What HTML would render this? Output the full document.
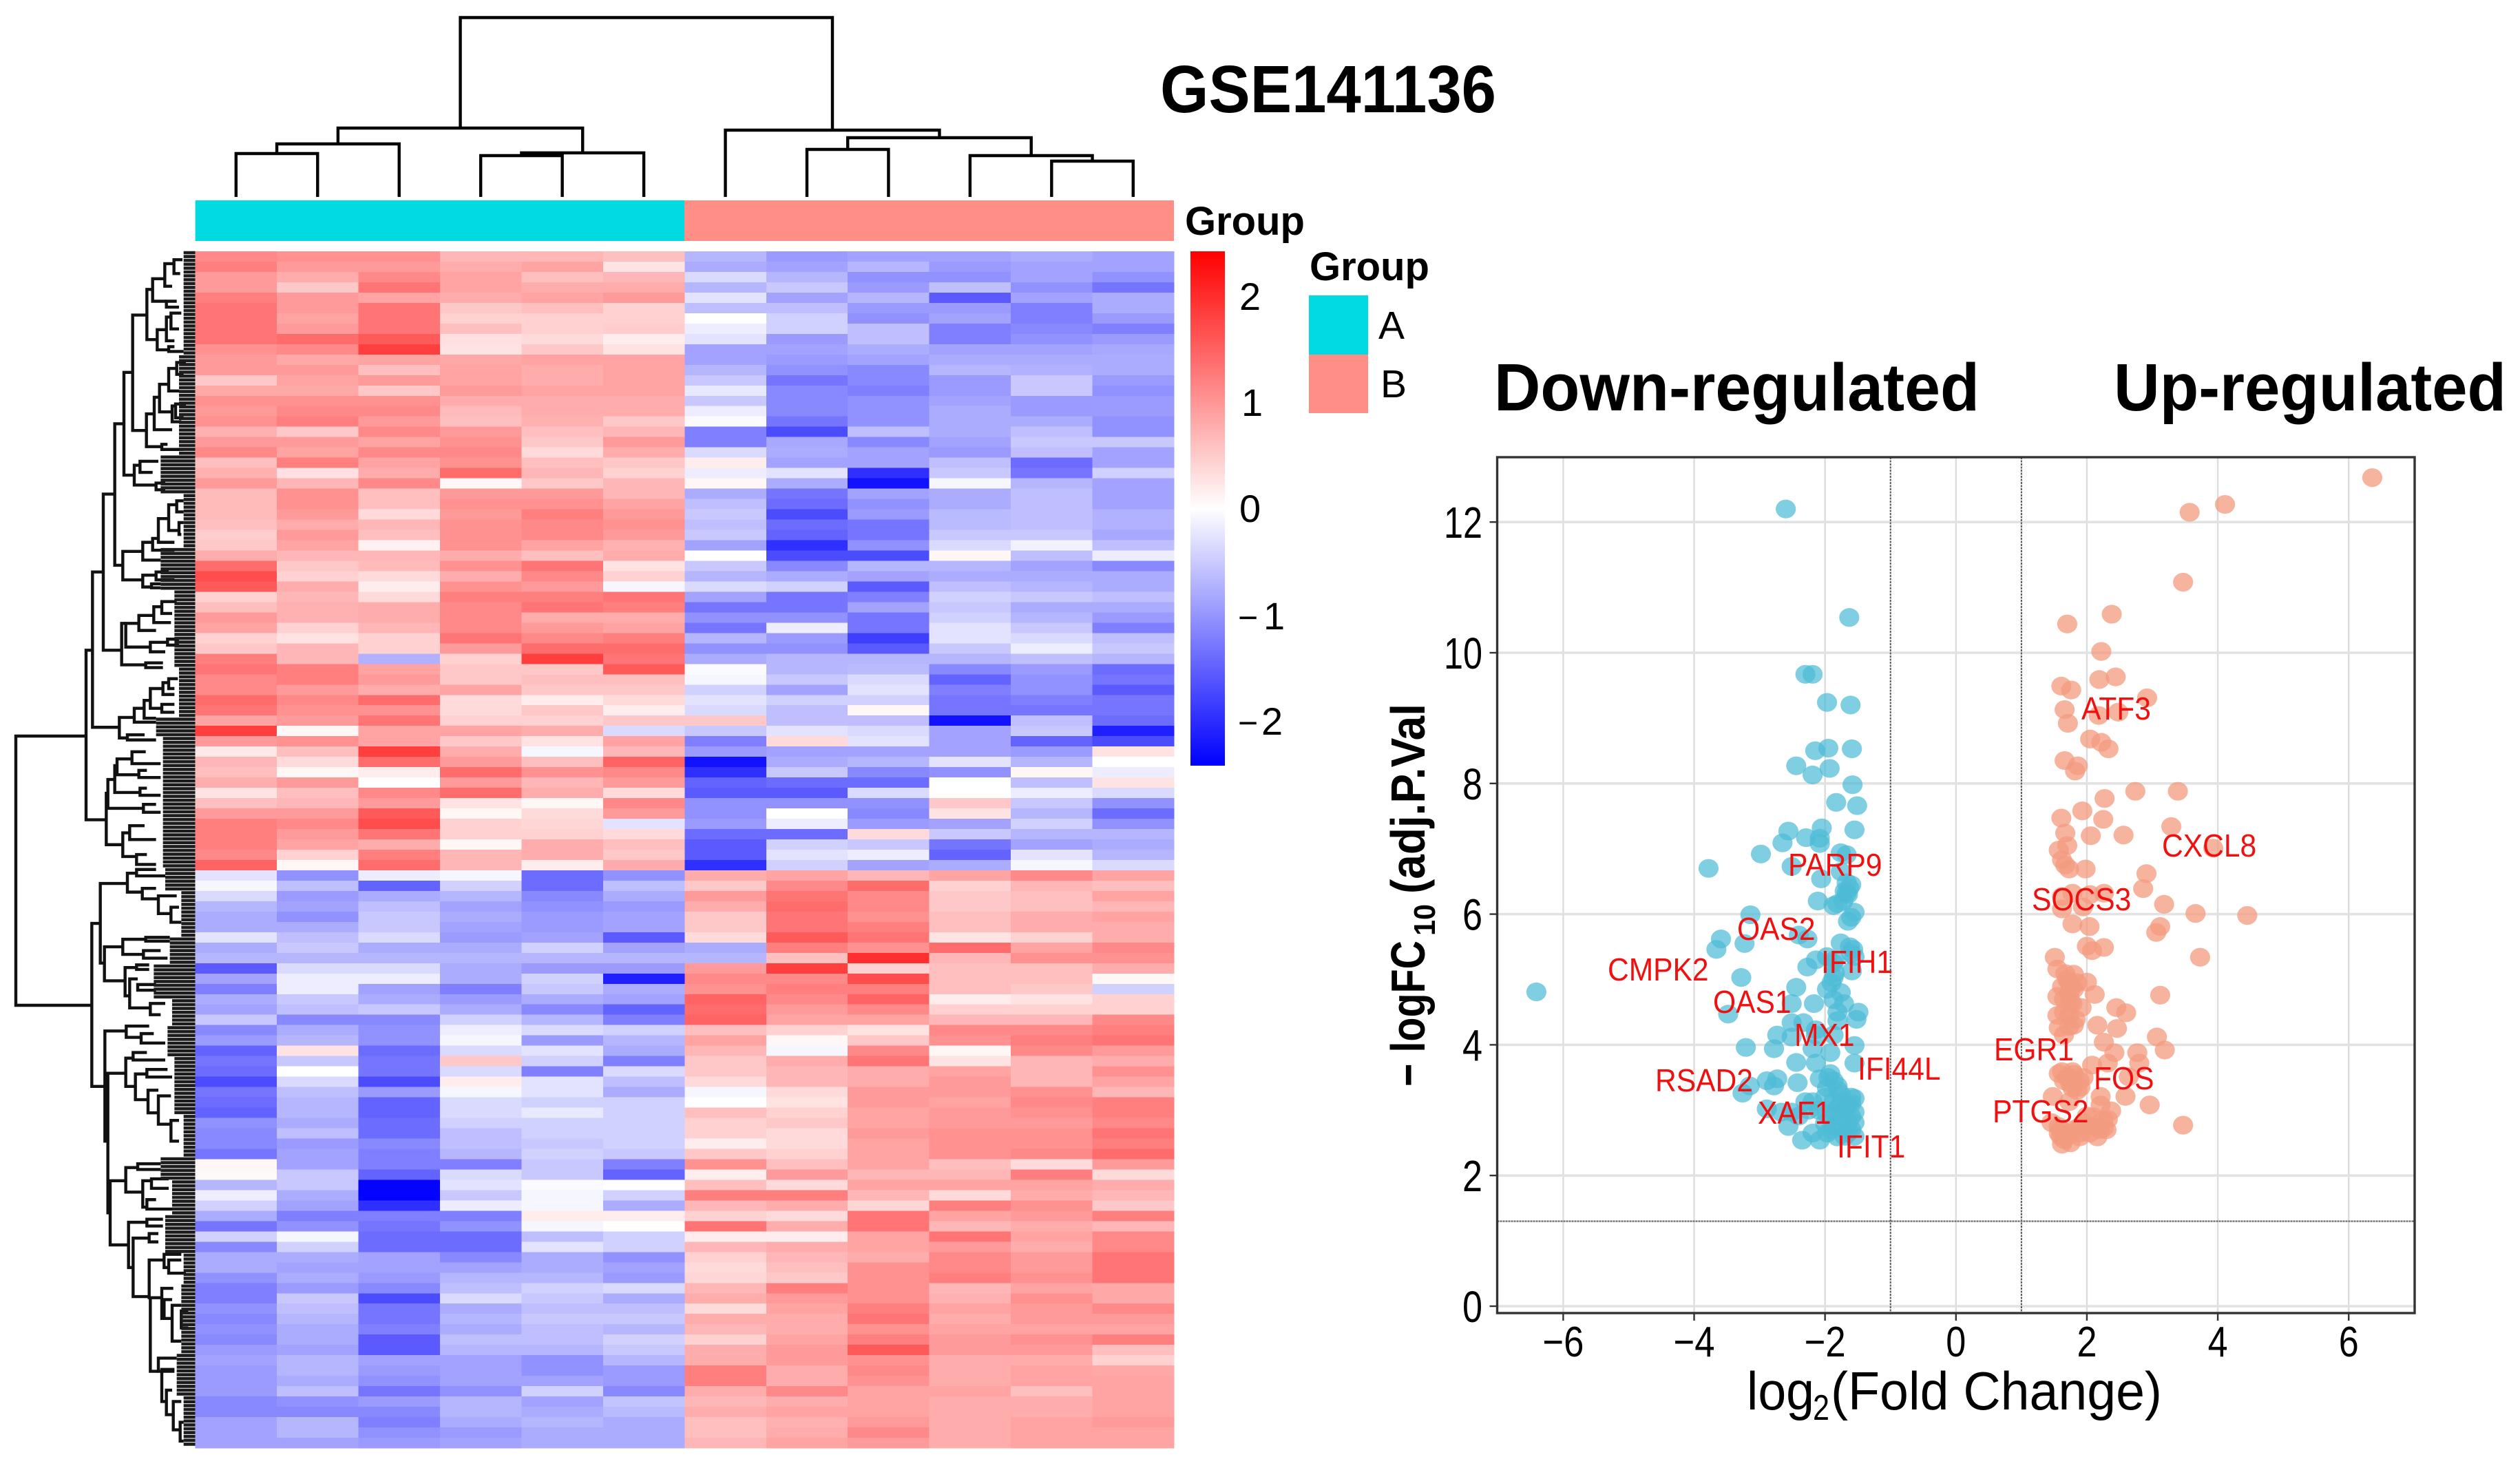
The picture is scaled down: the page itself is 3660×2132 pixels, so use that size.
<!DOCTYPE html>
<html lang="en">
<head>
<meta charset="utf-8">
<title>GSE141136 heatmap and volcano plot</title>
<style>
html,body{margin:0;padding:0;background:#fff;}
svg{display:block;}
text{font-family:"Liberation Sans",sans-serif;fill:#000;}
.lbl{fill:#f01010;font-size:46px;}
</style>
</head>
<body>
<svg id="fig" width="3660" height="2132" viewBox="0 0 3660 2132" xmlns="http://www.w3.org/2000/svg">
<defs>
<linearGradient id="cbar" x1="0" y1="0" x2="0" y2="1">
<stop offset="0" stop-color="#ff0000"/>
<stop offset="0.5" stop-color="#ffffff"/>
<stop offset="1" stop-color="#0000ff"/>
</linearGradient>
</defs>
<rect x="0" y="0" width="3660" height="2132" fill="#fff"/>
<g id="colDendro" fill="none" stroke="#000" stroke-width="4.4"></g>
<rect x="283.6" y="291" width="710.4" height="59" fill="#00dae0"/>
<rect x="994" y="291" width="711" height="59" fill="#ff8e87"/>
<g id="rowDendro" fill="none" stroke="#111" stroke-width="4.4"></g>
<g id="heat" shape-rendering="crispEdges"></g>

<text x="1685" y="163" font-size="97" font-weight="700" textLength="488" lengthAdjust="spacingAndGlyphs">GSE141136</text>
<text x="1721" y="341" font-size="58" font-weight="700">Group</text>
<rect x="1729" y="365" width="50" height="747" fill="url(#cbar)"/>
<text x="1800" y="450" font-size="56">2</text>
<text x="1803" y="604" font-size="56">1</text>
<text x="1800" y="758" font-size="56">0</text>
<text y="914" font-size="56"><tspan x="1798" font-size="50">−</tspan><tspan x="1835">1</tspan></text>
<text y="1067" font-size="56"><tspan x="1798" font-size="50">−</tspan><tspan x="1832">2</tspan></text>

<text x="1902" y="407" font-size="58" font-weight="700">Group</text>
<rect x="1901" y="429" width="86" height="86" fill="#00dae0"/>
<rect x="1901" y="515" width="86" height="85" fill="#ff8e87"/>
<text x="2002" y="492" font-size="57">A</text>
<text x="2005" y="577" font-size="57">B</text>

<text x="2170" y="596" font-size="97" font-weight="700" textLength="705" lengthAdjust="spacingAndGlyphs">Down-regulated</text>
<text x="3070" y="596" font-size="97" font-weight="700" textLength="570" lengthAdjust="spacingAndGlyphs">Up-regulated</text>

<g id="volcano"></g>

<g>
<text class="lbl" x="3023" y="1045">ATF3</text>
<text class="lbl" x="3140" y="1244">CXCL8</text>
<text class="lbl" x="2597" y="1272">PARP9</text>
<text class="lbl" x="2951" y="1322">SOCS3</text>
<text class="lbl" x="2523" y="1365">OAS2</text>
<text class="lbl" x="2645" y="1413">IFIH1</text>
<text class="lbl" x="2335" y="1424">CMPK2</text>
<text class="lbl" x="2488" y="1471">OAS1</text>
<text class="lbl" x="2606" y="1519">MX1</text>
<text class="lbl" x="2896" y="1540">EGR1</text>
<text class="lbl" x="2698" y="1568">IFI44L</text>
<text class="lbl" x="3041" y="1582">FOS</text>
<text class="lbl" x="2404" y="1585">RSAD2</text>
<text class="lbl" x="2894" y="1630">PTGS2</text>
<text class="lbl" x="2553" y="1632">XAF1</text>
<text class="lbl" x="2668" y="1681">IFIT1</text>
</g>

<g>
<text x="2537" y="2047" font-size="78" textLength="98" lengthAdjust="spacingAndGlyphs">log</text>
<text x="2633" y="2062" font-size="52" textLength="24" lengthAdjust="spacingAndGlyphs">2</text>
<text x="2659" y="2047" font-size="78" textLength="481" lengthAdjust="spacingAndGlyphs">(Fold Change)</text>
</g>
<g font-weight="700">
<text transform="translate(2069,1578) rotate(-90)" font-size="70" font-weight="700" textLength="212" lengthAdjust="spacingAndGlyphs">− logFC</text>
<text transform="translate(2084,1359) rotate(-90)" font-size="44" font-weight="700" textLength="46" lengthAdjust="spacingAndGlyphs">10</text>
<text transform="translate(2069,1298) rotate(-90)" font-size="70" font-weight="700" textLength="276" lengthAdjust="spacingAndGlyphs">(adj.P.Val</text>
</g>
</svg>

<script>
/* ---------- Heatmap values: each row holds 12 samples ---------- */
const heatValues = [
[1.3,1.2,1.2,.8,.8,.7,-.8,-1.1,-1,-1,-.9,-1],
[1.4,1.1,1.1,.9,1,.3,-.9,-1,-.8,-1.1,-1,-1],
[1.1,.9,1.3,1,.7,.8,-.4,-.8,-1.2,-1.2,-1,-1.2],
[1.1,.6,1.5,1,.9,.9,-.8,-.6,-1.1,-.7,-1.2,-1.5],
[1.4,1.1,1,.9,1,1.1,-.3,-1,-.8,-1.8,-1,-.9],
[1.5,1.1,1.5,.6,.7,.5,-.7,-.7,-1.1,-1.1,-1.4,-.9],
[1.5,1,1.5,.5,.5,.5,0,-.5,-1.2,-1,-1.4,-1.1],
[1.5,1.1,1.5,.7,.5,.55,-.2,-.5,-.7,-1.4,-1.3,-1.4],
[1.5,1.6,1.8,.35,.4,.2,-.3,-1.1,-.7,-1.4,-1.2,-1.1],
[1.2,1.3,2,.3,.6,.3,-1,-1,-.9,-1,-1,-.95],
[1.1,.95,1,.95,1,1,-1,-1.1,-1,-.9,-.9,-.9],
[1.1,1.1,.7,1,.9,1,-.8,-1.2,-1.3,-.8,-.85,-.9],
[.6,1,1.1,1,.9,1,-.6,-1.5,-1.3,-1.1,-.6,-1.1],
[.95,.95,.6,1.1,1,1,-.25,-1.3,-1.4,-1.1,-.6,-1.2],
[1.2,1.2,1.2,.9,.9,.9,-.6,-1.3,-1.2,-1,-1.1,-1.1],
[1.1,1.3,1.3,.75,.9,.9,-.2,-1.3,-1.2,-.9,-1.1,-1.1],
[1.2,1.4,1.1,.7,.85,.6,-.05,-1.5,-1.2,-.9,-.9,-1.2],
[.85,.6,1.3,1.1,.7,.8,-1.4,-1.9,-.7,-.9,-.7,-1.2],
[1.1,1.1,1,1.2,.6,1.1,-1.4,-.95,-1.3,-1,-.6,-.6],
[1.3,1,1.3,1.3,.4,.9,-.4,-.9,-1,-1.1,-.7,-1],
[.7,1.4,1,1.2,.7,.6,.2,-1,-1,-.7,-1.6,-1],
[.85,.35,.9,1.6,.8,.5,-.2,-.3,-2.1,-.6,-1.5,-.5],
[1.1,.8,1.3,.1,.6,.8,.1,-.9,-2.3,-.1,-.8,-1],
[.75,1.2,.7,1.1,1.1,.8,-.9,-1.5,-1,-.9,-.7,-1],
[.75,1.2,.7,1.2,1.2,1,-.7,-1.6,-1.2,-.9,-.7,-1],
[.75,1.1,.4,1.1,1.4,1.1,-.6,-1.9,-1.1,-.75,-.7,-.85],
[.7,.9,.8,1.2,1.3,1.2,-.7,-1.6,-1.5,-.75,-.7,-.85],
[.55,1.1,.7,1.2,1.3,1.1,-.6,-1.7,-1.5,-.6,-.6,-.95],
[.6,1,.15,1.2,1,.85,-1,-2.1,-1.2,-.4,-.15,-.7],
[.9,.8,.8,.9,.7,.9,0,-1.9,-1.9,.1,-.7,-.2],
[1.6,.6,.75,1.2,1.5,.3,-.6,-1.3,-.8,-.8,-1,-1.3],
[1.9,.5,.4,.9,1.3,.5,-.8,-.9,-1,-.9,-.9,-.9],
[1.8,.9,.2,1.2,1.1,-.1,-.4,-.5,-1.8,-.7,-.8,-.9],
[.5,.8,.4,1.4,1.4,1.5,-1,-1.5,-1.4,-.5,-.6,-.7],
[.7,.85,.9,1.3,1.5,1.4,-1.5,-1.5,-1,-.6,-.9,-.9],
[1.1,.85,.9,1.3,.9,.9,-1.2,-1.2,-1.5,-.5,-.8,-1.1],
[1,.5,.8,1.3,1.1,1,-1.5,-.2,-1.5,-.3,-.6,-1.4],
[.5,.3,.5,1.5,1.3,1.4,-.8,-1.1,-2,-.3,-.4,-.7],
[.6,.8,.5,1.1,1.6,1.6,-1.2,-1.2,-1.8,-.6,-.2,-.6],
[1.4,.8,-.85,.5,2,1.5,-.9,-.8,-.8,-.8,-.7,-.8],
[1.5,1.4,1,.6,.6,1.8,-.05,-.8,-.75,-1.3,-1.1,-1.6],
[1.3,1.4,1.1,.6,.7,.7,-.1,-.6,-.4,-1.7,-1.2,-1.5],
[1.3,1.1,.9,1,.6,.6,-.5,-1,-.3,-1.4,-1.2,-1.8],
[1.6,1.3,1.6,.4,.2,.4,-.3,-.5,-.5,-1.5,-1.4,-1.5],
[1.5,1.2,1.2,.4,.6,.2,-.4,-.7,.1,-1.5,-1.5,-1.5],
[1,1.1,1.5,.5,.5,.6,.6,-.7,-.7,-2.3,-.7,-1.6],
[2,.1,1,1,.9,-.4,-.6,-.3,-.4,-1,-.6,-2.2],
[1.1,1.2,1,.6,.3,1,-1.4,.4,-.3,-1,-1.7,-1.9],
[.25,.7,2,.9,-.1,.8,-1.1,-1,-1,-1,-1.1,.3],
[.8,.4,1.6,1.1,.7,1.7,-2.3,-.9,-.8,-.3,-.8,0],
[.7,.1,.2,1.6,1.2,1.3,-2.1,-.6,-1.3,-1.2,.1,-.2],
[.9,1.1,0,1.1,.8,1.1,-1.7,-1.6,-1.6,0,-.7,.3],
[.3,.7,1.3,1.6,.9,.4,-1.8,-1.8,-.4,0,-.2,-.4],
[.7,.8,1.1,.3,.1,1.3,-1.2,-1.2,-1.2,.6,-.6,-1.2],
[1.1,1.1,1.8,.1,.4,1.1,-1.2,0,-1.3,.3,-.8,-1.6],
[1.4,1.3,1.9,.5,.45,-.3,-1.1,-.2,-1.1,-1,-.5,-1.2],
[1.4,1.1,1.5,.5,.5,.4,-1.6,-1.6,.4,-.6,-.8,-.8],
[1.4,1,.9,.1,.9,.7,-1.8,-.5,-.6,-1.5,-1,-.9],
[1.3,.5,1.4,.8,.9,.6,-1.8,-.3,-.2,-1.7,-.3,-.8],
[1.7,.1,1.6,.8,.2,.9,-2.1,-.5,-1,-.9,-.1,-.4],
[-.3,-1.2,-.2,-.1,-1.6,-1.2,.9,1,.8,1,1.3,1],
[-.1,-.7,-1.7,-.5,-1.6,-.7,.6,1.3,1.6,.5,.8,.7],
[-.4,-1.1,-.9,-.8,-1.3,-.9,1.1,1.5,1.3,.6,.7,1],
[-.8,-1,-.7,-1,-1.2,-1.1,.9,1.6,1.3,.6,.7,.8],
[-.9,-1.2,-.6,-.9,-1.1,-1,.6,1.5,1.2,.7,.9,1],
[-.9,-.9,-.6,-1,-1.1,-1,.6,1.5,1.4,.7,.9,.9],
[-.3,-.7,-.4,-1.1,-1,-1.8,.4,1.8,1.5,.3,.5,.9],
[-.9,-.6,-.9,-.9,-.5,-1,-.9,1.4,1.2,1.6,1,1.3],
[-.8,-.8,-.8,-.8,-.8,-.8,-.8,.7,2.1,.8,1.2,1.2],
[-1.8,-.4,-.4,-.9,-1.1,-1.1,1.1,2,.5,.7,.7,.9],
[-1,-.2,-.2,-.9,-.5,-2.2,1.3,1.3,1.9,.7,.7,.1],
[-1.4,-.2,-1,-1.4,-.6,-.9,1.2,1.4,1.4,.7,.6,-.5],
[-.9,-.6,-.9,-1.1,-.9,-1,1.7,1.3,1.7,.2,.3,.5],
[-1,-.7,-.6,-.9,-1.3,-1.7,1.6,1.1,1.3,.5,.5,.5],
[-.6,-1.3,-1.3,-.5,-.8,-1.4,1.7,1,1,.8,.8,1.3],
[-1.3,-.9,-1.2,-.2,-.4,-.5,.7,.5,.3,1.3,1.3,1.4],
[-1.1,-.8,-1.2,-.1,-1.1,-.8,1,.1,.6,1.2,1.4,1.5],
[-1.7,.3,-1.6,-.4,-.3,-.9,.8,-.1,1.3,.1,1.3,1.1],
[-1.5,-.6,-1.5,.6,-.5,-1.4,.6,.9,1.5,.3,.8,.9],
[-1.6,0,-1.5,-.4,-1.4,-.4,.6,.8,.9,1,.8,1.2],
[-1.9,-.4,-1.9,.2,-.3,-.7,.4,.8,.9,1.1,.8,1],
[-1.5,-.7,-1.1,-.1,-.3,-.9,-.1,.4,1.1,1.1,1.2,.8],
[-1.6,-.8,-1.7,-.4,-.5,-.5,0,.3,1.1,1,1.3,1.4],
[-1.7,-.8,-1.7,-.4,-.25,-.5,.7,.5,1,1.1,1.2,1.4],
[-1.2,-.9,-1.6,-.5,-.5,-.5,.5,.6,1,1.1,1.1,1.3],
[-1.3,-.7,-1.6,-.7,-.5,-.5,.5,.4,1.1,1.2,1.2,1.5],
[-1.3,-1.1,-1.3,-.7,-.6,-.5,.2,.4,1,1.2,1.2,1.4],
[-1.5,-1,-1.4,-.8,-.5,-.6,.6,.5,1,1.2,1.3,1.6],
[.1,-1,-1.4,-1.4,-.6,-1.4,1.2,.7,1,.7,.4,1.1],
[.05,-.6,-1.7,-.4,-.6,-1.7,.2,1.1,.8,.8,1.4,.4],
[-.8,-.6,-2.4,-.3,-.05,0,.7,.4,1,1,1,.9],
[-.2,-.9,-2.4,-.6,-.1,-.5,1.4,1.4,.8,.4,.9,.8],
[-.5,-1,-2.1,-.2,-.1,-.9,.8,.9,.45,1.4,1.2,.6],
[-.9,-1.4,-1.4,-1.4,.2,.2,.5,.4,1.5,1,1.1,1.4],
[-1.5,-1.2,-1.5,-1.2,-.1,0,1.5,.9,1.5,.8,.9,.8],
[-.5,-.1,-1.6,-1.6,-.7,-.5,.2,.2,1,1.5,1,1.3],
[-1.3,-.5,-1.6,-1.6,-.3,-.5,.8,.9,1,1.1,.9,1.3],
[-.9,-.9,-1,-1.3,-.9,-1.2,.5,.8,.9,1.3,1.1,1.5],
[-.9,-1,-1,-1,-.9,-1,.4,.7,1.2,1.3,1.1,1.5],
[-1.2,-.9,-1.1,-.8,-.8,-1.1,.45,.6,1.2,1.4,1.2,1.5],
[-1.4,-1.1,-1.3,-.7,-.5,-.4,.8,1.4,1.2,.8,1,.95],
[-1.4,-.6,-1.9,-.4,-.6,-.9,.9,1.1,1.2,.85,1.2,.95],
[-1.2,-.7,-1.5,-.9,-.7,-.7,.4,1,1.4,1,1.1,1.3],
[-1.3,-.8,-1.5,-.8,-.6,-.6,.9,.9,1.5,.9,1.1,1.1],
[-1.2,-.9,-1.4,-.9,-.7,-.8,.8,.9,1.2,1,1,1],
[-1.3,-.9,-1.8,-.7,-.7,-.5,.5,1,1.4,1.1,1.2,1.4],
[-1.1,-1,-1.8,-.8,-.8,-.6,.9,1.1,1.8,1.1,1.1,.7],
[-1,-.8,-1,-1,-1.2,-.8,.9,1.1,1.2,.9,.9,.5],
[-1.1,-.8,-1.1,-1,-1.2,-1.1,1.4,.9,1.3,.9,1,.95],
[-1.1,-.9,-1.2,-1,-1,-1.1,1.4,.9,1.2,.9,1,1],
[-1.1,-.7,-1.5,-1.2,-.5,-1.3,.9,1.3,1,1,.7,1],
[-1.3,-1.2,-1.1,-.8,-1,-.65,.8,.9,1,.9,.9,1],
[-1.3,-1.3,-1.3,-.8,-.9,-.75,.9,1,1,.9,.9,1],
[-1,-.8,-1.4,-.9,-.8,-.9,.7,.85,1.1,.9,1,1.1],
[-1,-.8,-1.2,-1.1,-.9,-.9,.7,.9,1.3,.9,1,1],
[-1,-1,-1.1,-1,-.9,-.9,.8,1,1.1,.9,1,1]
];
const heatMax = 2.42;

/* ---------- Column dendrogram: [childA, childB, height]; new ids start at 12 ---------- */
const colMerges = [
[0,1,63],[12,2,77],[3,4,60],[14,5,64],[13,15,100],
[7,8,69],[10,11,52],[9,18,60],[17,19,86],[6,20,97],[16,21,260.5]
];

/* ---------- Row dendrogram: [stemPos, topPos, bottomPos, topEnd, bottomEnd] read on two traced scales ---------- */
const rowMergesUpper = [
[375,1018,1447,403,463],[403,820,1213,450,520],[450,623,1018,500,530],[500,445,803,540,535],
[540,315,575,578,585],[578,170,462,640,638],[640,105,232,665,685],[665,78,135,718,725],
[718,40,97,758,750],[758,30,65,795,785],[725,135,150,770,780],[685,207,258,725,735],
[725,175,235,745,760],[745,165,205,790,780],[735,250,262,760,800],[638,420,503,672,705],
[672,378,460,695,750],[695,345,415,735,750],[735,305,362,770,780],[770,290,320,810,800],
[750,400,440,765,790],[765,395,430,810,800],[705,497,510,730,800],[585,550,600,610,680],
[610,540,568,690,665],[680,595,612,720,720],[535,768,840,622,622],[622,745,790,665,700],
[665,735,765,690,760],[690,685,745,735,760],[735,650,715,770,780],[770,640,668,800,800],
[780,695,725,800,790],[622,828,858,680,660],[680,820,840,735,760],[660,850,860,700,700],
[530,950,1055,548,635],[548,950,1010,605,655],[605,930,968,670,680],[670,908,948,705,745],
[705,895,925,770,750],[655,998,1022,730,720],[730,990,1005,780,780],[635,1050,1062,710,710],
[520,1188,1240,585,555],[585,1165,1200,628,680],[628,1145,1190,655,680],[655,1115,1165,710,705],
[710,1100,1130,735,760],[735,1090,1115,775,760],[705,1155,1175,760,760],[555,1232,1245,630,680],
[463,1380,1510,470,535],[470,1345,1418,500,625],[500,1310,1378,510,610],[510,1293,1333,575,605],
[575,1275,1305,635,700],[605,1322,1340,640,700],[610,1367,1385,640,700],[625,1408,1428,680,700],
[535,1480,1540,565,595],[565,1462,1497,630,680],[595,1535,1560,640,680]
];
const rowMergesLower = [
[400,148,580,437,457],[437,42,253,555,455],[555,15,65,595,620],[595,5,22,680,720],[620,55,83,680,690],
[690,75,122,770,745],[745,105,145,780,790],[455,210,300,535,545],[535,190,230,635,625],[635,185,195,740,740],
[625,220,240,700,730],[545,265,340,595,565],[595,258,270,650,650],[565,295,372,600,655],[600,310,325,680,680],
[655,360,390,720,700],[457,433,725,550,470],[550,420,450,650,615],[615,440,465,670,720],[470,545,915,548,480],
[548,505,580,580,590],[580,490,510,640,720],[590,547,615,640,645],[640,535,555,730,750],[645,590,650,690,690],
[690,605,680,745,745],[745,670,725,780,780],[480,830,1000,548,560],[548,795,860,600,622],[600,785,800,700,700],
[622,830,900,660,640],[660,825,850,735,735],[640,880,905,680,750],[560,940,1060,640,580],[640,932,950,710,710],
[580,982,1137,650,650],[650,970,992,690,690],[650,1040,1140,715,705],[655,1140,1335,650,690],[715,1025,1060,790,735],
[735,1040,1075,790,810],[705,1115,1195,755,715],[715,1145,1195,750,750],[750,1160,1255,790,790],[790,1175,1220,820,820],
[690,1300,1335,770,760],[705,1330,1415,760,725],[725,1385,1450,750,755],[755,1415,1490,790,785],[785,1470,1520,800,800]
];
const combBandsUpper = [[10,270,800],[270,520,780],[520,620,700],[620,760,800],[760,870,700],[870,1060,760],[1060,1190,780],[1190,1240,680],[1240,1568,710]];
const combBandsLower = [[0,60,720],[60,180,790],[180,260,740],[260,350,670],[350,420,750],[420,500,730],[500,650,760],[650,770,800],[770,830,700],[830,920,750],[920,1020,720],[1020,1100,800],[1100,1290,790],[1290,1400,770],[1400,1535,800]];

/* ---------- Volcano data ---------- */
const xTickValues = [-6,-4,-2,0,2,4,6];
const yTickValues = [0,2,4,6,8,10,12];
const downLogFC = [-2.60,-1.63,-2.30,-2.19,-1.97,-1.61,-2.15,-1.95,-1.59,-2.44,-1.93,-2.19,-1.58,-1.83,-1.51,-2.56,-2.05,-1.55,-2.29,-2.65,-2.08,-2.08,-2.98,-3.78,-1.76,-1.67,-2.51,-2.06,-1.76,-1.67,-1.63,-1.67,-2.11,-1.87,-1.81,-1.55,-1.60,-1.65,-3.14,-2.27,-3.23,-3.59,-3.66,-2.40,-1.76,-1.57,-1.55,-2.14,-1.97,-1.87,-2.27,-1.59,-3.28,-1.87,-6.41,-2.44,-1.97,-1.76,-2.17,-2.51,-1.87,-1.71,-1.49,-1.52,-1.81,-3.48,-2.51,-2.33,-2.14,-1.81,-2.73,-2.78,-3.21,-2.51,-2.14,-1.87,-1.55,-1.92,-2.19,-2.44,-2.14,-1.55,-2.73,-2.89,-2.42,-1.92,-2.08,-1.87,-2.78,-3.15,-3.26,-1.81,-1.97,-2.30,-2.89,-2.67,-1.76,-1.55,-1.87,-1.65,-1.55,-1.81,-1.97,-1.76,-1.87,-1.55,-1.97,-1.65,-2.56,-2.35,-2.08,-2.19,-1.81,-2.40,-2.51,-2.19,-1.6,-1.7,-1.6,-1.75,-1.85,-1.65,-1.7,-1.9,-1.8,-1.95,-2.0,-1.6,-2.1,-2.0,-1.75,-2.25,-1.65,-1.7,-1.6,-1.72,-1.6,-1.62,-1.85,-1.9,-1.85,-1.6,-1.55];
const downNegLogP = [12.20,10.54,9.67,9.67,9.24,9.20,8.50,8.54,8.53,8.27,8.23,8.13,7.98,7.71,7.66,7.27,7.32,7.29,7.17,7.09,7.16,7.08,6.92,6.70,6.94,6.91,6.73,6.54,6.65,6.48,6.40,6.32,6.20,6.13,6.16,6.03,5.95,5.89,5.99,5.62,5.55,5.62,5.46,5.68,5.56,5.46,5.35,5.30,5.35,5.25,5.19,5.13,5.03,5.03,4.81,4.88,4.85,4.80,4.63,4.63,4.69,4.63,4.50,4.39,4.50,4.47,4.34,4.34,4.23,4.37,4.15,3.94,3.96,4.12,4.15,4.15,3.99,3.88,3.94,3.73,3.72,3.72,3.48,3.45,3.42,3.56,3.48,3.45,3.37,3.37,3.26,3.37,3.34,3.13,3.02,2.97,3.24,3.18,3.13,3.08,2.97,3.02,2.94,2.89,2.75,2.81,2.65,2.65,2.75,2.54,2.54,2.65,2.59,2.91,2.97,3.13,3.2,3.0,2.9,3.1,2.95,2.8,2.6,2.7,3.3,3.5,3.2,3.1,3.0,2.8,2.75,3.0,6.3,6.35,6.45,6.2,5.4,5.5,5.1,4.95,5.3,2.7,2.6];
const upLogFC = [6.36,4.11,3.57,3.47,2.38,1.70,2.22,2.44,2.19,1.61,1.76,2.92,1.66,2.48,2.18,1.71,2.05,2.22,2.33,1.66,1.86,1.82,2.74,3.39,2.27,1.93,1.61,2.25,3.29,1.67,2.06,2.56,1.70,1.57,3.93,1.62,1.67,1.73,1.98,2.91,2.86,2.26,2.05,1.62,1.78,3.18,1.62,1.94,3.66,4.45,1.78,2.04,3.12,3.06,2.00,2.08,2.26,3.73,1.51,1.55,1.67,1.80,1.73,2.00,1.62,1.55,1.73,2.12,3.12,1.78,1.92,2.45,2.60,1.55,1.73,1.83,1.57,1.73,2.16,2.46,3.07,2.26,3.19,2.42,2.77,1.62,1.78,2.08,2.32,2.80,1.57,1.73,1.89,1.78,2.64,2.59,2.21,1.48,1.73,2.96,2.37,2.21,3.47,1.57,1.73,1.89,2.32,2.26,2.16,1.62,1.89,1.46,2.00,2.08,1.57,1.7,1.65,1.8,1.85,1.75,1.95,1.9,1.6,1.7,1.8,1.9,2.05,2.2,2.3,2.25,1.95,1.65,1.7,1.8,1.65,1.75,1.65,1.8,1.65,1.75,1.85,1.6,1.75,2.1];
const upNegLogP = [12.68,12.27,12.15,11.08,10.59,10.44,10.02,9.63,9.59,9.49,9.43,9.31,9.13,9.09,9.04,8.92,8.68,8.63,8.53,8.35,8.27,8.19,7.88,7.88,7.77,7.58,7.47,7.45,7.34,7.24,7.20,7.21,7.05,6.98,7.01,6.83,6.75,6.69,6.69,6.62,6.39,6.32,6.30,6.27,6.32,6.15,6.08,6.11,6.01,5.98,5.85,5.81,5.81,5.72,5.51,5.44,5.49,5.34,5.34,5.16,5.09,5.08,4.96,4.96,4.89,4.74,4.77,4.77,4.76,4.63,4.57,4.57,4.49,4.45,4.45,4.39,4.26,4.28,4.30,4.25,4.12,4.04,3.92,3.88,3.88,3.59,3.59,3.69,3.72,3.72,3.56,3.51,3.45,3.34,3.51,3.21,3.21,3.21,3.13,3.08,2.99,3.08,2.77,2.65,2.65,2.59,2.86,2.73,2.59,2.48,2.75,2.81,2.91,2.75,2.75,3.5,3.45,3.55,3.3,3.4,3.5,3.35,2.7,2.6,2.7,2.65,2.65,2.7,2.7,2.85,2.8,2.55,5.0,4.85,4.7,4.65,4.5,4.3,4.15,4.85,4.95,2.6,2.5,2.9];
const fcCutoffs = [-1,1];
const pCutoff = 1.3;

const NS = 'http://www.w3.org/2000/svg';
function make(tag, parent, attrs) {
  const el = document.createElementNS(NS, tag);
  for (const k in attrs) el.setAttribute(k, attrs[k]);
  parent.appendChild(el);
  return el;
}

/* ---------- Heatmap ---------- */
const heatLeft = 283.6, heatTop = 365, heatWidth = 1421.4, heatHeight = 1738;
const colW = heatWidth / 12;
const rowH = heatHeight / heatValues.length;
function heatX(c) { return heatLeft + c * colW; }
function heatY(r) { return heatTop + r * rowH; }
function heatColor(v) {
  let t = Math.min(1, Math.abs(v) / heatMax);
  t = t < 0.75 ? t * 0.87 : 0.6525 + (t - 0.75) * 1.39;
  const g = Math.round(255 * (1 - t));
  return v >= 0 ? 'rgb(255,' + g + ',' + g + ')' : 'rgb(' + g + ',' + g + ',255)';
}
const heatG = document.getElementById('heat');
heatValues.forEach(function (row, r) {
  row.forEach(function (v, c) {
    const el = make('rect', heatG, {
      x: heatX(c).toFixed(2), y: heatY(r).toFixed(2),
      width: (colW + 0.4).toFixed(2), height: (rowH + 0.4).toFixed(2),
      fill: heatColor(v)
    });
    
    
  });
});

/* ---------- Column dendrogram ---------- */
const colG = document.getElementById('colDendro');
const colBase = 286;
const colNodes = [];
for (let i = 0; i < 12; i++) colNodes.push({ x: heatX(i + 0.5), h: 0 });
colMerges.forEach(function (m) {
  const a = colNodes[m[0]], b = colNodes[m[1]], h = m[2];
  const yTop = colBase - h;
  const path = make('path', colG, {
    d: 'M' + a.x + ' ' + (colBase - a.h) + 'V' + yTop + 'H' + b.x + 'V' + (colBase - b.h)
  });
  
  
  colNodes.push({ x: (a.x + b.x) / 2, h: h });
});

/* ---------- Row dendrogram ---------- */
const rowG = document.getElementById('rowDendro');
function dx(v) { return v / 3; }
function upperY(v) { return 360 + 0.574 * v; }
function lowerY(v) { return 1260 + 0.548 * v; }
function drawMerge(m, toY) {
  const p = make('path', rowG, {
    d: 'M' + dx(m[3]) + ' ' + toY(m[1]) + 'H' + dx(m[0]) + 'V' + toY(m[2]) + 'H' + dx(m[4])
  });
  
  
}
rowMergesUpper.forEach(function (m) { drawMerge(m, upperY); });
rowMergesLower.forEach(function (m) { drawMerge(m, lowerY); });
const rootLink = make('path', rowG, { d: 'M125 1069H23V1460H134' });



function combStart(y) {
  if (y < 1260) {
    const v = (y - 360) / 0.574;
    for (const b of combBandsUpper) if (v >= b[0] && v < b[1]) return dx(b[2]);
  } else {
    const v = (y - 1260) / 0.548;
    for (const b of combBandsLower) if (v >= b[0] && v < b[1]) return dx(b[2]);
  }
  return 270;
}
const combG = make('g', rowG, { stroke: '#1c1c1c', 'stroke-width': 4.6 });


for (let y = 367; y < 2102; y += 5.6) {
  make('line', combG, { x1: combStart(y), x2: 283.6, y1: y, y2: y });
}

/* ---------- Volcano ---------- */
const vol = document.getElementById('volcano');
const pL = 2174.5, pR = 3507, pT = 664, pB = 1907;
function sx(v) { return 2840.8 + 95.07 * v; }
function sy(v) { return 1897 - 94.9 * v; }

xTickValues.forEach(function (v) {
  const g = make('line', vol, { x1: sx(v), x2: sx(v), y1: pT, y2: pB, stroke: '#dcdcdc', 'stroke-width': 2.4 });
  
  
  const t = make('line', vol, { x1: sx(v), x2: sx(v), y1: pB, y2: pB + 11, stroke: '#333', 'stroke-width': 2.4 });
  
  
  const lab = make('text', vol, { x: sx(v), y: 1970, 'font-size': 62, 'text-anchor': 'middle' });
  
  
  lab.textContent = (v < 0 ? '−' : '') + Math.abs(v);
  lab.setAttribute('textLength', v < 0 ? 60 : 29);
  lab.setAttribute('lengthAdjust', 'spacingAndGlyphs');
});
yTickValues.forEach(function (v) {
  const g = make('line', vol, { x1: pL, x2: pR, y1: sy(v), y2: sy(v), stroke: '#e2e2e2', 'stroke-width': 3.6 });
  
  
  const t = make('line', vol, { x1: pL - 11, x2: pL, y1: sy(v), y2: sy(v), stroke: '#333', 'stroke-width': 2.4 });
  
  
  const lab = make('text', vol, { x: 2153, y: sy(v) + 23, 'font-size': 64, 'text-anchor': 'end' });
  
  
  lab.textContent = String(v);
  lab.setAttribute('textLength', v >= 10 ? 56 : 29);
  lab.setAttribute('lengthAdjust', 'spacingAndGlyphs');
});
fcCutoffs.forEach(function (v) {
  const l = make('line', vol, { x1: sx(v), x2: sx(v), y1: pT, y2: pB, stroke: '#555', 'stroke-width': 2, 'stroke-dasharray': '3 1.5' });
  
  
});
const pLine = make('line', vol, { x1: pL, x2: pR, y1: sy(pCutoff), y2: sy(pCutoff), stroke: '#777', 'stroke-width': 2.6, 'stroke-dasharray': '3 1' });



downLogFC.forEach(function (v, i) {
  const c = make('ellipse', vol, { cx: sx(v), cy: sy(downNegLogP[i]), rx: 14.6, ry: 13.6, fill: '#4dbbd5', 'fill-opacity': 0.72 });
  
  
});
upLogFC.forEach(function (v, i) {
  const c = make('ellipse', vol, { cx: sx(v), cy: sy(upNegLogP[i]), rx: 14.6, ry: 13.6, fill: '#f39b7f', 'fill-opacity': 0.75 });
  
  
});
const frame = make('rect', vol, { x: pL, y: pT, width: pR - pL, height: pB - pT, fill: 'none', stroke: '#333', 'stroke-width': 3.4 });



/* ---------- Narrow gene labels to the reference glyph proportions ---------- */
document.querySelectorAll('.lbl').forEach(function (t) {
  const w = t.getComputedTextLength();
  t.setAttribute('textLength', (w * 0.925).toFixed(1));
  t.setAttribute('lengthAdjust', 'spacingAndGlyphs');
});
</script>
</body>
</html>
